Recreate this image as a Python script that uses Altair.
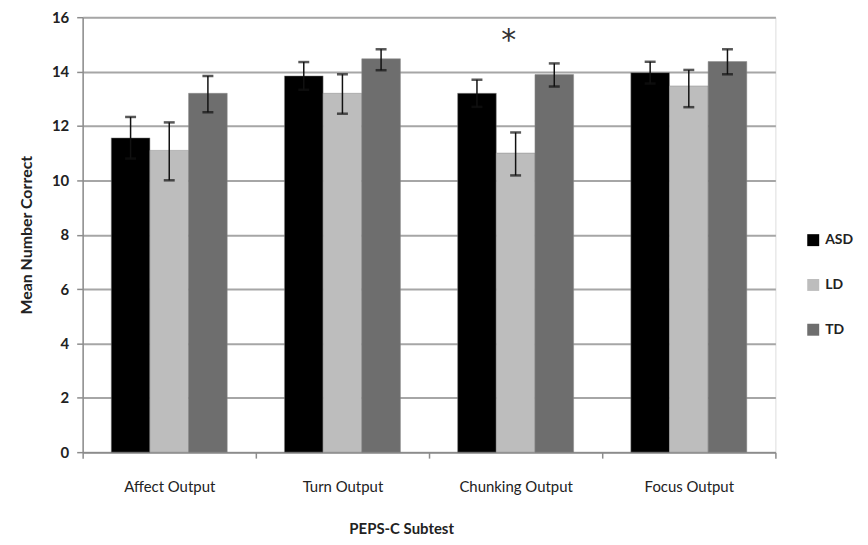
import altair as alt
import pandas as pd

categories = ["Affect Output", "Turn Output", "Chunking Output", "Focus Output"]
groups = ["ASD", "LD", "TD"]
means = {
    "ASD": [11.56, 13.84, 13.20, 13.96],
    "LD": [11.10, 13.20, 11.00, 13.47],
    "TD": [13.20, 14.47, 13.89, 14.37],
}
err_low = {
    "ASD": [10.80, 13.33, 12.70, 13.56],
    "LD": [10.00, 12.45, 10.18, 12.69],
    "TD": [12.50, 14.05, 13.45, 13.90],
}
err_high = {
    "ASD": [12.33, 14.35, 13.70, 14.36],
    "LD": [12.13, 13.90, 11.76, 14.06],
    "TD": [13.84, 14.82, 14.30, 14.82],
}
colors = ["#000000", "#bdbdbd", "#6e6e6e"]
star_category = "Chunking Output"
star_value = 15.4

rows = []
for g in groups:
    for i, c in enumerate(categories):
        rows.append({"cat": c, "grp": g, "mean": means[g][i],
                     "lo": err_low[g][i], "hi": err_high[g][i]})
df = pd.DataFrame(rows)
star_df = pd.DataFrame([{"cat": star_category, "v": star_value, "t": "*"}])

FONT = "Lato"

x_enc = alt.X("cat:N", sort=categories,
              scale=alt.Scale(paddingInner=0, paddingOuter=0),
              axis=alt.Axis(title="PEPS-C Subtest", labelAngle=0, labelFontSize=15,
                            labelColor="#222222", labelPadding=22, labelFont=FONT,
                            titleFont=FONT, titleFontSize=15, titleFontWeight="bold",
                            titleColor="#222222", titleX=320, titleY=77,
                            titleBaseline="middle", titleAlign="center",
                            tickBand="extent", tickSize=6, tickColor="#8c8c8c",
                            domainColor="#8c8c8c", domainWidth=1.5, tickWidth=1.5,
                            grid=False))
xo_enc = alt.XOffset("grp:N", sort=groups,
                     scale=alt.Scale(paddingInner=0, paddingOuter=0.74))

y_scale = alt.Scale(domain=[0, 16], nice=False)

bars = alt.Chart(df).mark_bar(stroke="#8a8a8a", strokeWidth=0.5).encode(
    x=x_enc,
    xOffset=xo_enc,
    y=alt.Y("mean:Q", scale=y_scale,
            axis=alt.Axis(title="Mean Number Correct", values=list(range(0, 17, 2)),
                          labelFontSize=15, labelFontWeight="bold", labelColor="#222222",
                          labelFont=FONT, labelPadding=8, tickSize=6,
                          tickColor="#8c8c8c", tickWidth=1.5,
                          domainColor="#8c8c8c", domainWidth=1.5,
                          gridColor="#a6a6a6", gridWidth=2,
                          titleFont=FONT, titleFontSize=16, titleFontWeight="bold",
                          titleColor="#222222", titlePadding=17)),
    color=alt.Color("grp:N", sort=groups,
                    scale=alt.Scale(domain=groups, range=colors),
                    legend=alt.Legend(title=None, orient="none", legendX=727, legendY=217,
                                      symbolType="square", symbolSize=144,
                                      symbolStrokeWidth=0, rowPadding=31,
                                      labelFontSize=14, labelFont=FONT,
                                      labelFontWeight="bold", labelColor="#222222",
                                      labelOffset=5)),
)

rules = alt.Chart(df).mark_rule(color="#111111", strokeWidth=1.5).encode(
    x=alt.X("cat:N", sort=categories), xOffset=xo_enc,
    y=alt.Y("lo:Q", scale=y_scale), y2="hi:Q")
caps_hi = alt.Chart(df).mark_tick(color="#111111", size=11, thickness=2.5, orient="horizontal").encode(
    x=alt.X("cat:N", sort=categories), xOffset=xo_enc,
    y=alt.Y("hi:Q", scale=y_scale))
caps_lo = alt.Chart(df).mark_tick(color="#111111", size=11, thickness=2.5, orient="horizontal").encode(
    x=alt.X("cat:N", sort=categories), xOffset=xo_enc,
    y=alt.Y("lo:Q", scale=y_scale))

star = alt.Chart(star_df).mark_text(fontSize=30, font="DejaVu Sans", color="#333333", dx=-7,
                                   dy=8, baseline="middle").encode(
    x=alt.X("cat:N", sort=categories),
    y=alt.Y("v:Q", scale=y_scale),
    text="t:N")

chart = alt.layer(bars, rules, caps_hi, caps_lo, star).properties(
    width=696, height=437,
    autosize=alt.AutoSizeParams(type="none"),
    padding={"left": 75, "top": 8, "right": 85, "bottom": 84},
).configure_view(stroke=None).configure(background="white")

chart.save("out.html", embed_options={"renderer": "svg", "actions": False})
